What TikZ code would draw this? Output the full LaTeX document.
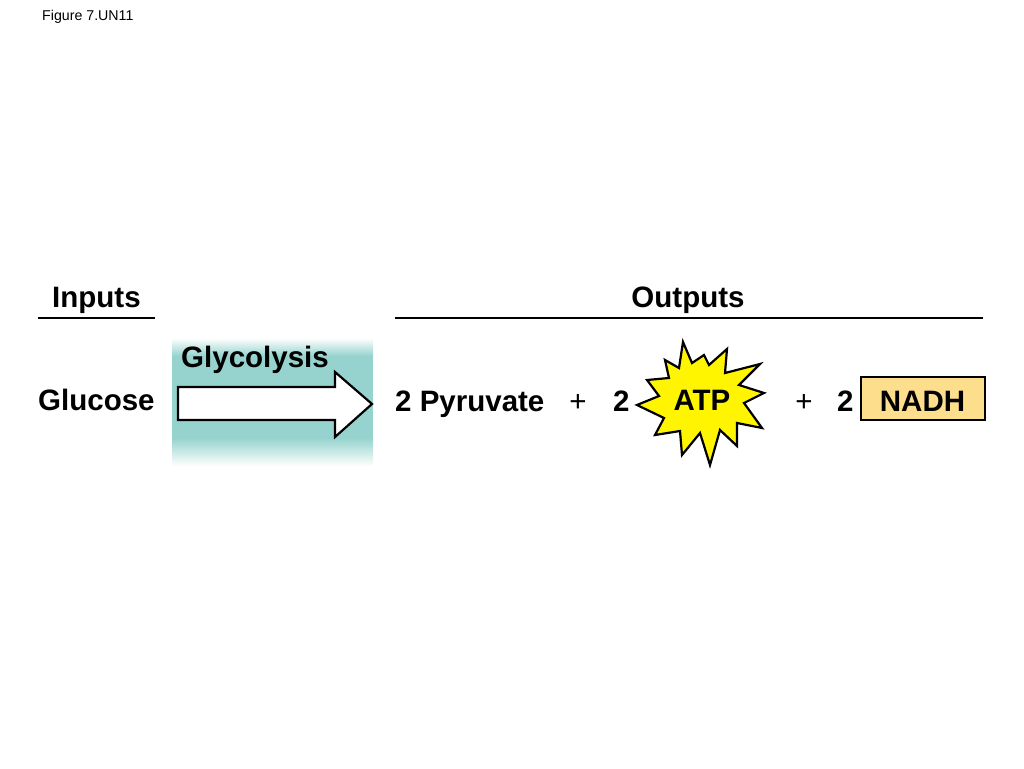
\documentclass[tikz,border=0pt]{standalone}
\usepackage{fontspec}
\setmainfont{Liberation Sans}
\usetikzlibrary{calc, positioning}
\definecolor{glyteal}{RGB}{150,211,206}
\definecolor{atpyellow}{RGB}{255,245,0}
\definecolor{nadhorange}{RGB}{253,222,140}
\tikzstyle{big text}=[font=\fontsize{29.5}{33}\selectfont\bfseries, inner sep=0pt, anchor=base west]
\tikzstyle{plus sign}=[font=\fontsize{29.5}{33}\selectfont, inner sep=0pt, anchor=base]
\tikzstyle{rule line}=[line width=2.2pt]

\begin{document}
\begin{tikzpicture}[x=1pt, y=-1pt]
		\useasboundingbox (0,0) rectangle (1024,768);
		\fill[white] (0,0) rectangle (1024,768);
		\node[font=\fontsize{14.2}{16}\selectfont, inner sep=0pt, anchor=base west] (fig) at (42,21) {Figure 7.UN11};
		% headers
		\node[big text] (In) at (52,307) {Inputs};
		\node[big text, anchor=base] (Out) at (688,307) {Outputs};
		\draw[rule line] (38,318) -- (155,318);
		\draw[rule line] (395,318) -- (983,318);
		% glycolysis band
		\shade[top color=white, bottom color=glyteal] (172,338) rectangle (373,356);
		\fill[glyteal] (172,356) rectangle (373,438);
		\shade[top color=glyteal, bottom color=white] (172,438) rectangle (373,466);
		\draw[line width=2.2pt, fill=white, line join=miter] (178,387) -- (335,387) -- (335,372) -- (372,404) -- (335,437) -- (335,420) -- (178,420) -- cycle;
		\node[big text] (Gly) at (181,367) {Glycolysis};
		% reaction
		\node[big text] (Glu) at (38,410) {Glucose};
		\node[big text] (Pyr) at (395,411) {2 Pyruvate};
		\node[plus sign] (P-1) at (578,411) {+};
		\node[big text] (N-1) at (613,411) {2};
		\draw[line width=2.2pt, fill=atpyellow, line join=miter]
		(683,342) -- (692,363) -- (704,355) -- (709,365) -- (727,349) -- (725,373) -- (760,364) -- (739,385)
		-- (764,393) -- (744,403) -- (762,428) -- (737,423) -- (737,446) -- (720,430) -- (710,465) -- (700,433)
		-- (682,455) -- (680,431) -- (655,435) -- (664,418) -- (637,405) -- (659,396) -- (647,380) -- (669,378)
		-- (665,360) -- (679,368) -- cycle;
		\node[big text, anchor=base] (ATP) at (702,410) {ATP};
		\node[plus sign] (P-2) at (804,411) {+};
		\node[big text] (N-2) at (837,411) {2};
		\node[draw, fill=nadhorange, line width=2pt, inner sep=0pt, minimum width=124, minimum height=43,
			font=\fontsize{29.5}{33}\selectfont\bfseries, text height=27.4, text depth=0] (NADH) at (922.5,398) {NADH};
	\end{tikzpicture}
\end{document}
